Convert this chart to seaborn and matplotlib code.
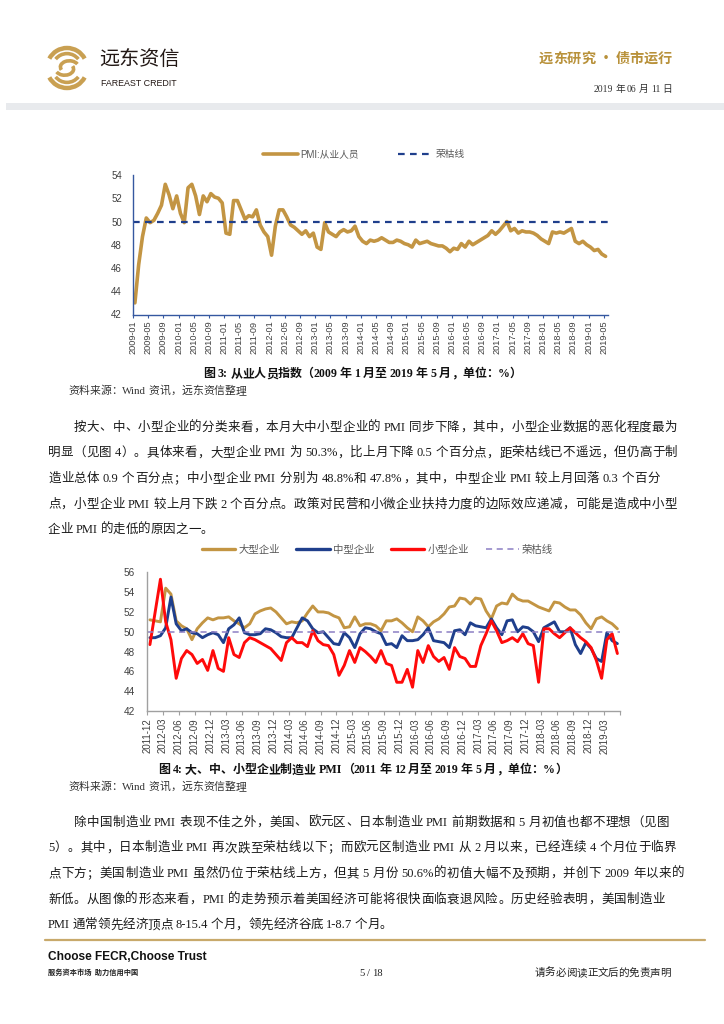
import numpy as np
import pandas as pd
import matplotlib
matplotlib.use("Agg")
import matplotlib.pyplot as plt
import seaborn as sns
from matplotlib.patches import Arc, Rectangle
from matplotlib.lines import Line2D

# ---------------- data ----------------
emp_first_month = "2009-01"
employment_pmi = [
    43.0, 46.3, 48.7, 50.3, 49.9, 50.1, 50.7, 51.4, 53.2, 52.3,
    51.1, 52.2, 50.7, 49.9, 52.9, 53.2, 52.2, 50.6, 52.2, 51.7,
    52.4, 52.1, 52.0, 51.6, 49.0, 48.9, 51.8, 51.8, 51.0, 50.2,
    50.5, 50.4, 51.0, 49.7, 49.1, 48.7, 47.1, 49.6, 51.0, 51.0,
    50.4, 49.7, 49.5, 49.2, 48.9, 49.2, 48.7, 49.0, 47.8, 47.6,
    49.9, 49.1, 48.9, 48.7, 49.1, 49.3, 49.1, 49.2, 49.6, 48.7,
    48.3, 48.1, 48.4, 48.3, 48.4, 48.6, 48.4, 48.2, 48.2, 48.4,
    48.3, 48.1, 48.0, 47.8, 48.4, 48.1, 48.2, 48.3, 48.1, 48.0,
    47.9, 47.9, 47.7, 47.4, 47.7, 47.6, 48.1, 47.8, 48.3, 48.0,
    48.2, 48.4, 48.6, 48.8, 49.2, 48.9, 49.2, 49.6, 50.0, 49.2,
    49.4, 49.0, 49.2, 49.1, 49.1, 49.0, 48.8, 48.5, 48.3, 48.1,
    49.1, 49.0, 49.1, 49.0, 49.2, 49.4, 48.3, 48.1, 48.3, 48.0,
    47.8, 47.5, 47.6, 47.2, 47.0,
]

sme_first_month = "2011-12"
large_pmi = [
    51.2, 51.1, 51.0, 54.4, 53.8, 51.1, 50.6, 50.3, 49.2, 50.3,
    50.9, 51.4, 51.2, 51.4, 51.4, 51.5, 51.1, 50.8, 50.4, 50.8,
    51.8, 52.1, 52.3, 52.4, 52.0, 51.4, 50.8, 51.0, 50.9, 51.1,
    51.9, 52.6, 52.0, 52.0, 51.9, 51.6, 51.4, 50.4, 50.5, 51.5,
    50.6, 50.8, 50.8, 50.6, 50.1, 51.1, 51.1, 51.3, 50.9, 50.4,
    50.0, 51.5, 51.1, 50.5, 51.0, 51.3, 51.8, 52.5, 52.6, 53.4,
    53.3, 52.8, 53.4, 53.3, 52.1, 51.3, 52.6, 52.9, 52.8, 53.8,
    53.3, 53.1, 53.1, 52.8, 52.5, 52.3, 52.1, 53.0, 52.9, 52.5,
    52.2, 52.2, 51.7, 50.9, 50.3, 51.3, 51.5, 51.1, 50.8, 50.3,
]
medium_pmi = [
    49.4, 49.4, 49.6, 50.4, 53.5, 50.8, 50.1, 50.3, 49.9, 49.8,
    49.4, 49.7, 49.9, 49.7, 48.9, 50.3, 50.7, 51.4, 49.9, 49.7,
    49.7, 49.8, 50.3, 50.2, 49.9, 49.5, 49.4, 49.4, 50.4, 51.4,
    51.1, 50.3, 49.9, 50.0, 49.4, 48.8, 48.7, 49.9, 49.4, 48.4,
    49.8, 50.4, 50.3, 50.0, 49.8, 48.7, 48.8, 48.4, 49.6, 49.1,
    49.1, 49.2, 49.7, 50.4, 49.1, 49.0, 48.9, 48.4, 50.1, 50.2,
    49.7, 50.9, 50.6, 50.5, 50.4, 51.3, 50.4, 49.7, 51.1, 51.2,
    50.0, 50.5, 50.4, 50.0, 49.0, 50.4, 50.7, 51.0, 50.0, 50.0,
    50.4, 48.7, 47.8, 48.9, 48.3, 47.3, 47.0, 49.9, 49.1, 48.8,
]
small_pmi = [
    48.7, 52.0, 55.3, 51.0, 49.2, 45.3, 47.3, 48.1, 47.7, 46.8,
    47.2, 46.1, 48.1, 46.3, 46.0, 49.4, 47.7, 47.4, 48.9, 49.4,
    49.2, 48.9, 48.6, 48.3, 47.7, 47.1, 48.9, 49.4, 48.9, 48.9,
    48.5, 50.1, 49.1, 48.7, 48.6, 47.7, 45.6, 46.6, 48.1, 46.9,
    48.4, 48.0, 47.5, 46.9, 48.1, 46.8, 46.6, 44.9, 44.9, 46.2,
    44.4, 48.1, 46.9, 48.6, 47.5, 47.0, 47.4, 46.2, 48.4, 47.5,
    47.3, 46.5, 46.5, 48.6, 49.8, 51.1, 50.1, 48.9, 49.1, 49.4,
    49.0, 49.8, 48.8, 48.6, 44.9, 50.3, 50.3, 49.8, 49.4, 49.9,
    50.4, 49.9, 49.4, 49.0, 48.4, 47.1, 45.3, 49.2, 49.8, 47.8,
]
boom_bust = 50
emp_yticks = [42, 44, 46, 48, 50, 52, 54]
sme_yticks = [42, 44, 46, 48, 50, 52, 54, 56]
emp_series_name = "PMI:从业人员"
boom_bust_name = "荣枯线"
sme_series_names = ["大型企业", "中型企业", "小型企业"]

emp_months = pd.period_range(emp_first_month, periods=len(employment_pmi), freq="M").strftime("%Y-%m").tolist()
sme_months = pd.period_range(sme_first_month, periods=len(large_pmi), freq="M").strftime("%Y-%m").tolist()

# ---------------- text ----------------
header_right = "远东研究 • 债市运行"
report_date = "2019 年 06 月 11 日"
caption3 = "图 3: 从业人员指数（2009 年 1 月至 2019 年 5 月，单位：%）"
caption4 = "图 4: 大、中、小型企业制造业 PMI（2011 年 12 月至 2019 年 5 月，单位：%）"
source_text = "资料来源：Wind 资讯，远东资信整理"
para1 = [
    "按大、中、小型企业的分类来看，本月大中小型企业的 PMI 同步下降，其中，小型企业数据的恶化程度最为",
    "明显（见图 4）。具体来看，大型企业 PMI 为 50.3%，比上月下降 0.5 个百分点，距荣枯线已不遥远，但仍高于制",
    "造业总体 0.9 个百分点；中小型企业 PMI 分别为 48.8%和 47.8%，其中，中型企业 PMI 较上月回落 0.3 个百分",
    "点，小型企业 PMI 较上月下跌 2 个百分点。政策对民营和小微企业扶持力度的边际效应递减，可能是造成中小型",
    "企业 PMI 的走低的原因之一。",
]
para2 = [
    "除中国制造业 PMI 表现不佳之外，美国、欧元区、日本制造业 PMI 前期数据和 5 月初值也都不理想（见图",
    "5）。其中，日本制造业 PMI 再次跌至荣枯线以下；而欧元区制造业 PMI 从 2 月以来，已经连续 4 个月位于临界",
    "点下方；美国制造业 PMI 虽然仍位于荣枯线上方，但其 5 月份 50.6%的初值大幅不及预期，并创下 2009 年以来的",
    "新低。从图像的形态来看，PMI 的走势预示着美国经济可能将很快面临衰退风险。历史经验表明，美国制造业",
    "PMI 通常领先经济顶点 8-15.4 个月，领先经济谷底 1-8.7 个月。",
]

# ---------------- style ----------------
sns.set_theme(style="white")
plt.rcParams["font.family"] = ["Liberation Sans", "Noto Sans CJK SC", "DejaVu Sans"]
plt.rcParams["axes.unicode_minus"] = False
SERIF_MIX = ["Liberation Serif", "Noto Sans CJK SC"]
SANS_MIX = ["Liberation Sans", "Noto Sans CJK SC"]
CJK = ["Noto Sans CJK SC", "DejaVu Sans"]

GOLD = "#C39543"
NAVY = "#1F3F8C"
AXIS_BLUE = "#3558A0"
RED = "#FF0A0A"
PURPLE = "#8C7EC4"
GRAY_AX = "#A0A0A0"
LABEL = "#404040"

W, H, DPI = 724, 1024, 100
fig = plt.figure(figsize=(W / DPI, H / DPI), dpi=DPI)
fig.patch.set_facecolor("white")
renderer = fig.canvas.get_renderer()


def fx(px):
    return px / W


def fy(py):
    return 1 - py / H


def tokenize(s):
    toks, buf = [], ""
    for ch in s:
        if ch == " ":
            if buf:
                toks.append(buf)
                buf = ""
            toks.append(" ")
        elif ord(ch) < 128:
            buf += ch
        else:
            if buf:
                toks.append(buf)
                buf = ""
            toks.append(ch)
    if buf:
        toks.append(buf)
    return toks


def put_line(s, x0, yc, x1=None, size=9.0, family=SERIF_MIX, color="#111111",
             weight="normal", center=None, right=None):
    toks = tokenize(s)
    objs, widths = [], []
    base = yc + size * 1.389 * 0.36
    for t in toks:
        if t == " ":
            objs.append(None)
            widths.append(size * 1.389 * 0.22)
        else:
            o = fig.text(0, fy(base), t, fontsize=size, family=family, color=color,
                         weight=weight, ha="left", va="baseline")
            widths.append(o.get_window_extent(renderer).width)
            objs.append(o)
    natural = sum(widths)
    extra = 0.0
    if center is not None:
        x0 = center - natural / 2
    elif right is not None:
        x0 = right - natural
    elif x1 is not None and len(toks) > 1:
        extra = (x1 - x0 - natural) / (len(toks) - 1)
    x = x0
    for o, w in zip(objs, widths):
        if o is not None:
            o.set_x(fx(x))
        x += w + extra


# ---------------- header ----------------
logo_ax = fig.add_axes([fx(44), fy(92), 46 / W, 48 / H])
logo_ax.set_xlim(-1.15, 1.15)
logo_ax.set_ylim(-1.15, 1.15)
logo_ax.set_aspect("equal")
logo_ax.axis("off")
for r, lw, t1, t2 in [(1.0, 3.2, 28, 152), (0.72, 2.6, 38, 142)]:
    logo_ax.add_patch(Arc((0, 0), 2 * r, 2 * r, theta1=t1, theta2=t2, color="#C9A052", lw=lw))
    logo_ax.add_patch(Arc((0, 0), 2 * r, 2 * r, theta1=t1 + 180, theta2=t2 + 180, color="#C9A052", lw=lw))
logo_ax.add_patch(Arc((0.12, 0.05), 0.9, 0.62, theta1=20, theta2=200, color="#C9A052", lw=2.6))
logo_ax.add_patch(Arc((-0.12, -0.05), 0.9, 0.62, theta1=200, theta2=380, color="#C9A052", lw=2.6))

fig.text(fx(99), fy(59), "远东资信", fontsize=14.5, family=CJK, color="#231815", va="center", ha="left")
fig.text(fx(101), fy(83), "FAREAST CREDIT", fontsize=6.4, family=SANS_MIX, color="#231815", va="center", ha="left")
put_line(header_right, 0, 58, size=10.2, family=CJK, color="#B8913A", right=672, weight="bold")
put_line(report_date, 0, 88, size=7.0, family=SERIF_MIX, color="#333333", right=672)
fig.patches.append(Rectangle((fx(6), fy(110)), 1 - fx(6), 7 / H, transform=fig.transFigure,
                             facecolor="#E8EAED", edgecolor="none"))

# ---------------- chart 1 ----------------
ax1 = fig.add_axes([fx(133), fy(314.5), 474.5 / W, 139.5 / H])
df1 = pd.DataFrame({"month": np.arange(len(employment_pmi)), "value": employment_pmi})
sns.lineplot(data=df1, x="month", y="value", ax=ax1, color=GOLD, linewidth=2.6, label=emp_series_name)
ax1.axhline(boom_bust, color=NAVY, linewidth=1.6, linestyle=(0, (3.0, 2.4)), label=boom_bust_name)
ax1.set_xlim(-0.5, len(employment_pmi) - 0.5)
ax1.set_ylim(emp_yticks[0], emp_yticks[-1])
ax1.set_yticks(emp_yticks)
ax1.set_yticklabels([str(v) for v in emp_yticks])
t1 = list(range(0, len(employment_pmi), 4))
ax1.set_xticks([i - 0.5 for i in t1])
ax1.set_xticklabels([emp_months[i] for i in t1], rotation=90)
ax1.set_xlabel("")
ax1.set_ylabel("")
for s in ["top", "right"]:
    ax1.spines[s].set_visible(False)
for s in ["left", "bottom"]:
    ax1.spines[s].set_color(AXIS_BLUE)
    ax1.spines[s].set_linewidth(1.0)
ax1.tick_params(axis="x", bottom=True, length=2.5, width=0.8, color=AXIS_BLUE, pad=2,
                labelsize=6.6, labelcolor=LABEL, direction="out")
ax1.tick_params(axis="y", left=False, length=0, pad=8, labelsize=7, labelcolor=LABEL)
ax1.grid(False)
h1, l1 = ax1.get_legend_handles_labels()
if ax1.get_legend() is not None:
    ax1.get_legend().remove()
fig.legend(h1, l1, loc="center", bbox_to_anchor=(fx(364), fy(154)), bbox_transform=fig.transFigure,
           ncol=2, frameon=False, handlelength=3.6, handletextpad=0.3,
           columnspacing=4.0, labelcolor="#595959", prop={"family": SANS_MIX, "size": 7})

put_line(caption3, 0, 373, size=8.6, family=SERIF_MIX, color="#111111", weight="bold", center=362.5)
put_line(source_text, 68, 390, size=7.8, family=SERIF_MIX, color="#333333", weight="light")

# paragraph 1
p1_y = [426.0, 451.7, 477.4, 503.1, 528.8]
p1_x0 = [74, 48, 48, 48, 48]
p1_x1 = [677, 677, 660, 677, None]
for s, y, a, b in zip(para1, p1_y, p1_x0, p1_x1):
    put_line(s, a, y, x1=b, size=9.0, color="#1a1a1a", weight="light")

# ---------------- chart 2 ----------------
ax2 = fig.add_axes([fx(147.3), fy(711), 472.7 / W, 138.7 / H])
df2 = pd.DataFrame({
    "month": np.tile(np.arange(len(large_pmi)), 3),
    "value": large_pmi + medium_pmi + small_pmi,
    "type": np.repeat(sme_series_names, len(large_pmi)),
})
sns.lineplot(data=df2, x="month", y="value", hue="type", ax=ax2,
             palette={sme_series_names[0]: GOLD, sme_series_names[1]: NAVY, sme_series_names[2]: RED},
             hue_order=sme_series_names, linewidth=2.1)
ax2.axhline(boom_bust, color=PURPLE, linewidth=1.1, linestyle=(0, (4.0, 3.0)), label=boom_bust_name)
ax2.set_xlim(-0.5, len(large_pmi) - 0.5)
ax2.set_ylim(sme_yticks[0], sme_yticks[-1])
ax2.set_yticks(sme_yticks)
ax2.set_yticklabels([str(v) for v in sme_yticks])
t2 = list(range(0, len(large_pmi), 3))
ax2.set_xticks([i - 0.5 for i in t2] + [len(large_pmi) - 0.5])
ax2.set_xticklabels([sme_months[i] for i in t2] + [""], rotation=90)
ax2.set_xlabel("")
ax2.set_ylabel("")
for s in ["top", "right"]:
    ax2.spines[s].set_visible(False)
for s in ["left", "bottom"]:
    ax2.spines[s].set_color(GRAY_AX)
    ax2.spines[s].set_linewidth(1.0)
ax2.tick_params(axis="x", bottom=True, length=3, width=0.8, color=GRAY_AX, pad=2,
                labelsize=7, labelcolor=LABEL, direction="out")
ax2.tick_params(axis="y", left=False, length=0, pad=9, labelsize=7.2, labelcolor=LABEL)
ax2.grid(False)
h2, l2 = ax2.get_legend_handles_labels()
if ax2.get_legend() is not None:
    ax2.get_legend().remove()
for h in h2:
    if h.get_label() != boom_bust_name:
        h.set_linewidth(2.4)
fig.legend(h2, l2, loc="center", bbox_to_anchor=(fx(377.5), fy(550)), bbox_transform=fig.transFigure,
           ncol=4, frameon=False, handlelength=3.2, handletextpad=0.3,
           columnspacing=1.6, labelcolor="#595959", prop={"family": SANS_MIX, "size": 7.5})

put_line(caption4, 0, 769, size=8.6, family=SERIF_MIX, color="#111111", weight="bold", center=362.5)
put_line(source_text, 68, 786, size=7.8, family=SERIF_MIX, color="#333333", weight="light")

p2_y = [821.0, 846.7, 872.4, 898.1, 923.8]
p2_x0 = [74, 48, 48, 48, 48]
p2_x1 = [669, 676, 684, 665, None]
for s, y, a, b in zip(para2, p2_y, p2_x0, p2_x1):
    put_line(s, a, y, x1=b, size=9.0, color="#1a1a1a", weight="light")

# ---------------- footer ----------------
fig.add_artist(Line2D([fx(45), fx(705)], [fy(940), fy(940)], transform=fig.transFigure,
                      color="#C8A96B", linewidth=1.6))
fig.text(fx(48), fy(957), "Choose FECR,Choose Trust", fontsize=8.6, family=SANS_MIX,
         weight="bold", color="#111111", va="center", ha="left")
fig.text(fx(48), fy(972), "服务资本市场  助力信用中国", fontsize=5.2, family=CJK,
         weight="bold", color="#222222", va="center", ha="left")
put_line("5 / 18", 0, 972, size=7.6, family=SERIF_MIX, color="#222222", center=371)
put_line("请务必阅读正文后的免责声明", 0, 972, size=7.6, family=CJK, color="#222222", right=671,
         weight="light")

fig.savefig("out.png", dpi=DPI, facecolor="white")
